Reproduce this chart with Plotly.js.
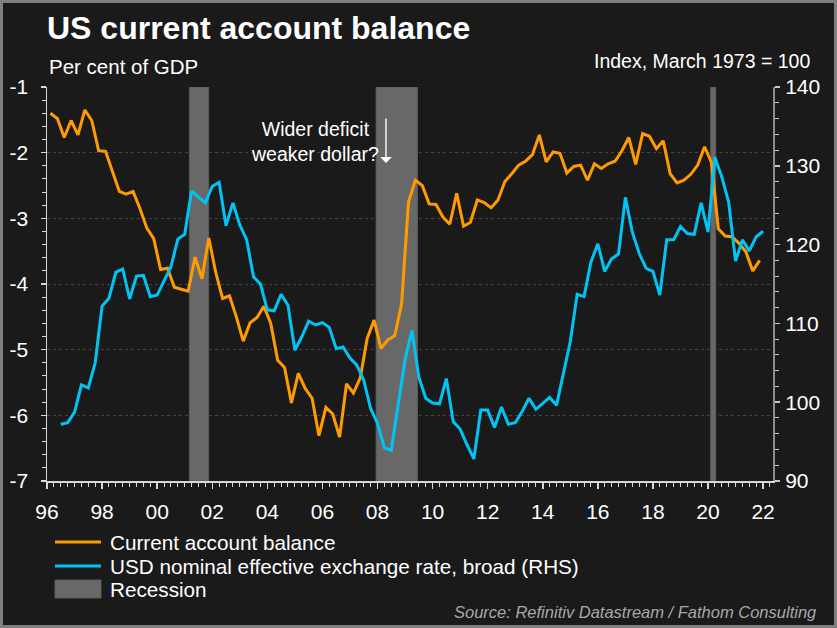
<!DOCTYPE html>
<html>
<head>
<meta charset="utf-8">
<script src="https://cdn.plot.ly/plotly-3.0.1.min.js"></script>
<style>
  html, body { margin: 0; padding: 0; background: #1a1a1a; }
  #wrap { position: relative; width: 837px; height: 628px; }
  #chart { position: absolute; left: 0; top: 0; width: 837px; height: 628px; }
  #frame { position: absolute; left: 0; top: 0; width: 837px; height: 628px; box-sizing: border-box; border: 3px solid #7f7f7f; pointer-events: none; }
</style>
</head>
<body>
<div id="wrap"><div id="chart"></div><div id="frame"></div></div>
<script>
// ---- Data (quarterly) ----
// Current account balance, % of GDP, 1996Q1 .. 2021Q4
const caStart = 1996; // first quarter: 1996 Q1
const currentAccount = [
  -1.40, -1.48, -1.77, -1.51,
  -1.73, -1.35, -1.51, -1.97,
  -1.98, -2.29, -2.59, -2.63,
  -2.59, -2.85, -3.15, -3.31,
  -3.78, -3.76, -4.05, -4.08,
  -4.11, -3.59, -3.92, -3.30,
  -3.82, -4.22, -4.18, -4.50,
  -4.87, -4.59, -4.51, -4.34,
  -4.60, -5.16, -5.27, -5.81,
  -5.36, -5.59, -5.74, -6.31,
  -5.88, -5.98, -6.33, -5.52,
  -5.66, -5.43, -4.83, -4.55,
  -4.98, -4.85, -4.79, -4.30,
  -2.75, -2.42, -2.50, -2.78,
  -2.79, -2.98, -3.09, -2.62,
  -3.12, -3.06, -2.72, -2.76,
  -2.84, -2.72, -2.44, -2.32,
  -2.19, -2.13, -2.03, -1.73,
  -2.14, -1.99, -2.01, -2.31,
  -2.21, -2.19, -2.42, -2.17,
  -2.24, -2.17, -2.13, -1.97,
  -1.77, -2.18, -1.71, -1.75,
  -1.94, -1.82, -2.32, -2.46,
  -2.42, -2.33, -2.19, -1.91,
  -2.15, -3.16, -3.27, -3.28,
  -3.38, -3.51, -3.80, -3.64
];
// USD nominal effective exchange rate, broad (Index, March 1973 = 100), 1996Q2 .. 2021Q4 (dated at quarter end)
const usdStart = 1996.5;
const usdIndex = [
  97.2, 97.4, 98.7, 102.2, 101.8, 105.0, 112.2, 113.2,
  116.5, 116.9, 113.1, 116.0, 116.1, 113.4, 113.6, 115.5,
  117.2, 120.7, 121.3, 126.8, 126.1, 125.3, 127.4, 127.9,
  122.4, 125.3, 122.5, 120.6, 115.9, 115.0, 111.7, 111.6,
  113.7, 112.3, 106.6, 108.3, 110.3, 109.8, 110.1, 109.5,
  106.8, 107.0, 105.6, 104.7, 102.8, 99.2, 97.3, 94.2,
  93.9, 99.4, 105.4, 109.1, 103.2, 100.5, 99.9, 99.8,
  103.0, 97.5, 96.6, 94.6, 92.8, 99.0, 99.0, 96.8,
  99.4, 97.2, 97.4, 98.8, 100.5, 99.1, 99.9, 100.6,
  99.6, 103.7, 107.7, 113.7, 113.4, 117.8, 120.1, 116.6,
  118.2, 118.8, 126.0, 121.6, 118.9, 117.0, 116.6, 113.6,
  120.6, 120.6, 122.3, 121.4, 121.3, 125.3, 121.6, 131.1,
  128.6, 125.4, 117.9, 120.6, 119.2, 121.0, 121.7
];
// Recessions (decimal years)
const recessionStart = [2001.17, 2007.95, 2020.10];
const recessionEnd   = [2001.87, 2009.45, 2020.28];
// Tick labels
const xTickYears = [1996,1998,2000,2002,2004,2006,2008,2010,2012,2014,2016,2018,2020,2022];
const xTickText  = ['96','98','00','02','04','06','08','10','12','14','16','18','20','22'];
const leftTicks  = [-7,-6,-5,-4,-3,-2,-1];
const leftTickText = ['-7','-6','-5','-4','-3','-2','-1'];
const rightTicks = [90,100,110,120,130,140];

// ---- Build traces ----
const caX = currentAccount.map((v, i) => caStart + 0.125 + 0.25 * i);
const usdX = usdIndex.map((v, i) => usdStart + 0.25 * i);

const ORANGE = '#ff9b00';
const BLUE = '#00c4f4';
const REC = '#686868';
const FONT = '"Liberation Sans", Arial, sans-serif';

const recX = [], recY = [];
recessionStart.forEach((s, i) => {
  const e = recessionEnd[i];
  recX.push(s, e, e, s, s, null);
  recY.push(-7, -7, -1, -1, -7, null);
});

const traces = [
  { type: 'scatter', mode: 'lines', x: recX, y: recY, fill: 'toself', fillcolor: REC,
    line: { width: 1, color: '#5c5c5c' }, hoverinfo: 'skip', showlegend: false, name: 'Recession' },
  { type: 'scatter', mode: 'lines', x: usdX, y: usdIndex, yaxis: 'y2',
    line: { color: BLUE, width: 3 }, showlegend: false,
    name: 'USD nominal effective exchange rate, broad (RHS)' },
  { type: 'scatter', mode: 'lines', x: caX, y: currentAccount,
    line: { color: ORANGE, width: 3 }, showlegend: false, name: 'Current account balance' }
];

// ---- Layout helpers (pixel -> paper) ----
const W = 837, H = 628, L = 47, R = 64, T = 87, B = 147;
const PW = W - L - R, PH = H - T - B;
const px = x => (x - L) / PW;
const py = y => (H - B - y) / PH;

const annotations = [
  { text: 'Per cent of GDP', xref: 'paper', yref: 'paper', x: px(47), y: py(66), xanchor: 'left', yanchor: 'middle',
    showarrow: false, font: { size: 20.5, color: '#ffffff', family: FONT } },
  { text: 'Index, March 1973 = 100', xref: 'paper', yref: 'paper', x: px(812), y: py(61), xanchor: 'right', yanchor: 'middle',
    showarrow: false, font: { size: 19.5, color: '#ffffff', family: FONT } },
  { text: 'Wider deficit<br>weaker dollar?', xref: 'paper', yref: 'paper', x: px(315), y: py(141), xanchor: 'center', yanchor: 'middle',
    showarrow: false, align: 'center', font: { size: 19.5, color: '#ffffff', family: FONT } },
  { text: '', xref: 'paper', yref: 'paper', x: px(386), y: py(163), ax: 0, ay: -46, showarrow: true,
    arrowcolor: '#ffffff', arrowwidth: 1.4, arrowhead: 1, arrowsize: 1.4 },
  { text: 'Source: Refinitiv Datastream / Fathom Consulting', xref: 'paper', yref: 'paper', x: px(819), y: py(612),
    xanchor: 'right', yanchor: 'middle', showarrow: false,
    font: { size: 16.5, color: '#a8a8a8', family: FONT, style: 'italic' } },
  // legend texts
  { text: 'Current account balance', xref: 'paper', yref: 'paper', x: px(108), y: py(542), xanchor: 'left', yanchor: 'middle',
    showarrow: false, font: { size: 20.7, color: '#ffffff', family: FONT } },
  { text: 'USD nominal effective exchange rate, broad (RHS)', xref: 'paper', yref: 'paper', x: px(108), y: py(566), xanchor: 'left', yanchor: 'middle',
    showarrow: false, font: { size: 20.7, color: '#ffffff', family: FONT } },
  { text: 'Recession', xref: 'paper', yref: 'paper', x: px(108), y: py(589), xanchor: 'left', yanchor: 'middle',
    showarrow: false, font: { size: 20.7, color: '#ffffff', family: FONT } }
];

const shapes = [
  { type: 'line', xref: 'paper', yref: 'paper', x0: px(55), x1: px(101), y0: py(542), y1: py(542), line: { color: ORANGE, width: 3 } },
  { type: 'line', xref: 'paper', yref: 'paper', x0: px(55), x1: px(101), y0: py(566), y1: py(566), line: { color: BLUE, width: 3 } },
  { type: 'rect', xref: 'paper', yref: 'paper', x0: px(55), x1: px(101), y0: py(598), y1: py(580), fillcolor: REC, line: { color: '#5c5c5c', width: 1 } }
];

const layout = {
  width: W, height: H,
  margin: { l: L, r: R, t: T, b: B, pad: 0 },
  paper_bgcolor: '#1a1a1a', plot_bgcolor: '#1a1a1a',
  font: { family: FONT, color: '#ffffff', size: 20 },
  showlegend: false,
  title: { text: '<b>US current account balance</b>', x: px(47), xref: 'paper', xanchor: 'left',
    y: 1 - 28 / H, yref: 'container', yanchor: 'middle',
    font: { size: 32, color: '#ffffff', family: FONT } },
  xaxis: {
    range: [1996, 2022.36], tickmode: 'array', tickvals: xTickYears, ticktext: xTickText,
    showgrid: false, zeroline: false, showline: true, linecolor: '#d8d8d8', linewidth: 1.5,
    ticks: 'outside', ticklen: 6, tickcolor: '#d8d8d8', tickwidth: 1.5, ticklabelstandoff: 5,
    tickfont: { size: 21, color: '#ffffff' },
    minor: { dtick: 0.25, tick0: 1996, ticks: 'outside', ticklen: 4, tickcolor: '#d8d8d8', tickwidth: 1, showgrid: false }
  },
  yaxis: {
    range: [-7, -1], tickmode: 'array', tickvals: leftTicks, ticktext: leftTickText,
    showgrid: true, gridcolor: '#444444', griddash: 'dot', gridwidth: 1, zeroline: false,
    showline: true, linecolor: '#d8d8d8', linewidth: 1.5,
    ticks: 'outside', ticklen: 5, tickcolor: '#d8d8d8', tickwidth: 1.5, ticklabelstandoff: 8,
    tickfont: { size: 21, color: '#ffffff' },
    minor: { dtick: 0.2, tick0: -7, ticks: 'outside', ticklen: 4, tickcolor: '#d8d8d8', tickwidth: 1, showgrid: false }
  },
  yaxis2: {
    range: [90, 140], overlaying: 'y', side: 'right', tickmode: 'array', tickvals: rightTicks,
    showgrid: false, zeroline: false, showline: true, linecolor: '#8c8c8c', linewidth: 2,
    ticks: 'outside', ticklen: 5, tickcolor: '#c8c8c8', tickwidth: 1.5, ticklabelstandoff: 1,
    tickfont: { size: 21, color: '#ffffff' },
    minor: { dtick: 2, tick0: 90, ticks: 'outside', ticklen: 4, tickcolor: '#c8c8c8', tickwidth: 1, showgrid: false }
  },
  annotations: annotations,
  shapes: shapes
};

Plotly.newPlot('chart', traces, layout, { staticPlot: true, displayModeBar: false });
</script>
</body>
</html>
